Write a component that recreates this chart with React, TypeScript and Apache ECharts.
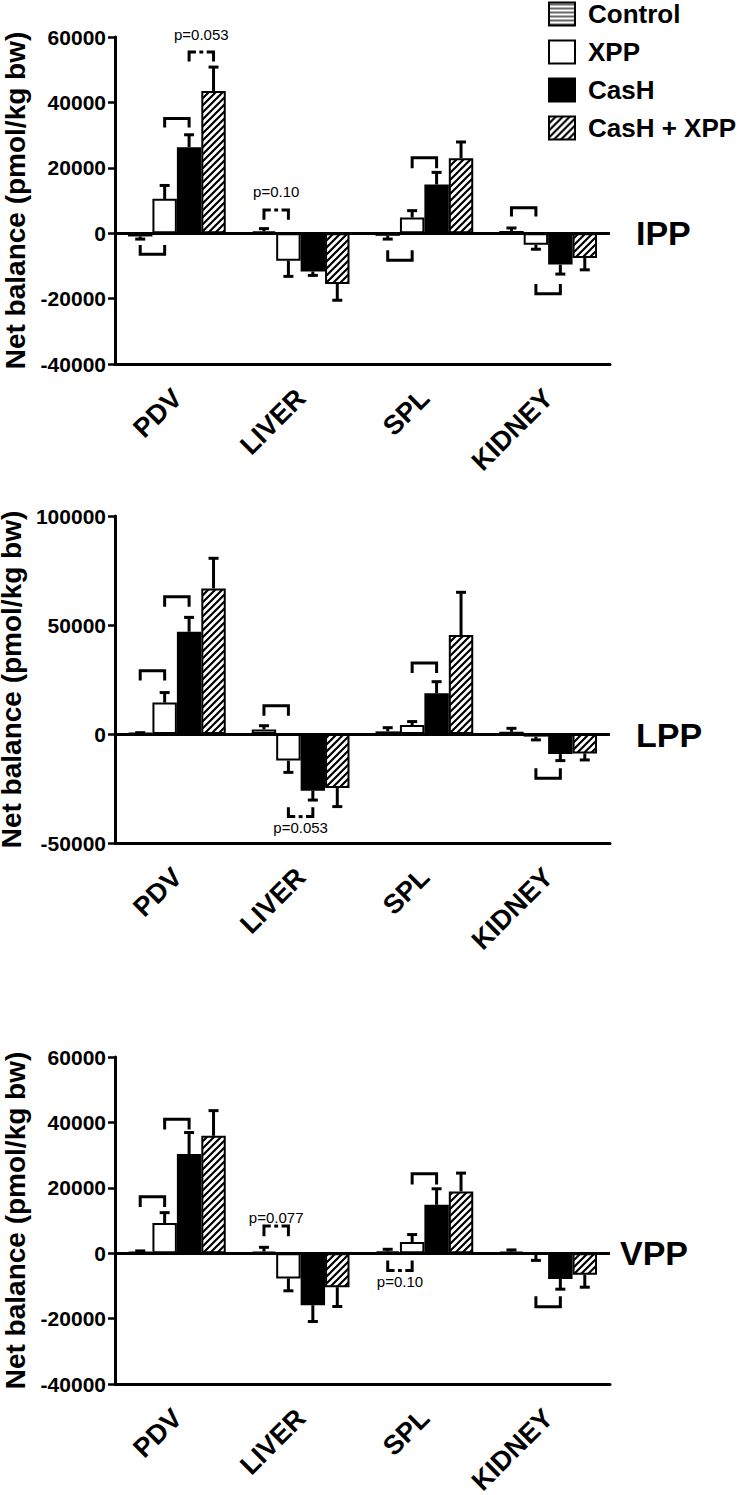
import React, { useEffect, useRef } from 'react';
import * as echarts from 'echarts';

// ---------- data ----------
const categories = ['PDV', 'LIVER', 'SPL', 'KIDNEY'];
const groupNames = ['Control', 'XPP', 'CasH', 'CasH + XPP'];

// IPP
const ippControl = [-1000, 600, -800, 700];
const ippControlErr = [800, 800, 1000, 900];
const ippXpp = [10500, -8400, 4800, -3500];
const ippXppErr = [4100, 4800, 2100, 1400];
const ippCasH = [26300, -11700, 14900, -9600];
const ippCasHErr = [3800, 1200, 3700, 2900];
const ippCasHXpp = [43500, -15500, 22900, -7600];
const ippCasHXppErr = [7300, 5000, 5000, 3600];

// LPP
const lppControl = [400, 2100, 1200, 1000];
const lppControlErr = [200, 1700, 1700, 1600];
const lppXpp = [14400, -12200, 4100, -1200];
const lppXppErr = [4600, 5400, 1600, 1500];
const lppCasH = [46900, -26000, 18700, -9200];
const lppCasHErr = [6600, 4300, 5300, 3000];
const lppCasHXpp = [66800, -24800, 45400, -8900];
const lppCasHXppErr = [13800, 8500, 19600, 3000];

// VPP
const vppControl = [400, 500, 600, 500];
const vppControlErr = [300, 1300, 600, 500];
const vppXpp = [9200, -7700, 3400, -300];
const vppXppErr = [3200, 3800, 2300, 1900];
const vppCasH = [30300, -15900, 14800, -7900];
const vppCasHErr = [6600, 5000, 4900, 3100];
const vppCasHXpp = [35900, -10400, 18900, -6600];
const vppCasHXppErr = [7700, 5900, 5600, 3800];

// significance brackets: [category, barA, barB, lineValue, tipValue, dashed, label, labelValue]
const ippBrackets = [
  [0, 0, 1, -6400, -3600, 0, '', 0],
  [0, 1, 2, 35100, 32300, 0, '', 0],
  [0, 2, 3, 55400, 52500, 1, 'p=0.053', 60700],
  [1, 0, 1, 7100, 4100, 1, 'p=0.10', 12600],
  [2, 0, 1, -8300, -5200, 0, '', 0],
  [2, 1, 2, 23100, 19900, 0, '', 0],
  [3, 0, 1, 7800, 5100, 0, '', 0],
  [3, 1, 2, -18500, -15500, 0, '', 0],
];
const lppBrackets = [
  [0, 0, 1, 29000, 24500, 0, '', 0],
  [0, 1, 2, 63000, 58400, 0, '', 0],
  [1, 0, 1, 13000, 8400, 0, '', 0],
  [1, 1, 2, -37900, -33600, 1, 'p=0.053', -42800],
  [2, 1, 2, 32600, 28000, 0, '', 0],
  [3, 1, 2, -20300, -15700, 0, '', 0],
];
const vppBrackets = [
  [0, 0, 1, 17300, 14100, 0, '', 0],
  [0, 1, 2, 41000, 37800, 0, '', 0],
  [1, 0, 1, 8300, 5200, 1, 'p=0.077', 10800],
  [2, 0, 1, -5300, -2200, 1, 'p=0.10', -8700],
  [2, 1, 2, 24300, 21000, 0, '', 0],
  [3, 1, 2, -16400, -13200, 0, '', 0],
];

const panelLabels = ['IPP', 'LPP', 'VPP'];
const yTicks = [
  { min: -40000, max: 60000, interval: 20000 },
  { min: -50000, max: 100000, interval: 50000 },
  { min: -40000, max: 60000, interval: 20000 },
];

const panels = [
  {
    means: [ippControl, ippXpp, ippCasH, ippCasHXpp],
    errs: [ippControlErr, ippXppErr, ippCasHErr, ippCasHXppErr],
    brackets: ippBrackets,
  },
  {
    means: [lppControl, lppXpp, lppCasH, lppCasHXpp],
    errs: [lppControlErr, lppXppErr, lppCasHErr, lppCasHXppErr],
    brackets: lppBrackets,
  },
  {
    means: [vppControl, vppXpp, vppCasH, vppCasHXpp],
    errs: [vppControlErr, vppXppErr, vppCasHErr, vppCasHXppErr],
    brackets: vppBrackets,
  },
];

// ---------- styling ----------
const FONT = 'Liberation Sans, Arial, Helvetica, sans-serif';
const GAP = 0.21;
const gridTops = [37, 516, 1057];
const gridHeight = 327;
const gridLeft = 115;
const gridWidth = 495;
const labelPos = [
  [636, 233],
  [636, 735],
  [620, 1253],
];

function makePattern(kind: string) {
  const c = document.createElement('canvas');
  const s = kind === 'diag' ? 7 : 4;
  c.width = s;
  c.height = s;
  const g = c.getContext('2d')!;
  g.fillStyle = '#fff';
  g.fillRect(0, 0, s, s);
  g.strokeStyle = '#000';
  if (kind === 'diag') {
    g.lineWidth = 2.2;
    g.beginPath();
    g.moveTo(-1, s + 1);
    g.lineTo(s + 1, -1);
    g.moveTo(-1, 1);
    g.lineTo(1, -1);
    g.moveTo(s - 1, s + 1);
    g.lineTo(s + 1, s - 1);
    g.stroke();
  } else {
    g.lineWidth = 1.2;
    g.beginPath();
    g.moveTo(0, 2);
    g.lineTo(s, 2);
    g.stroke();
  }
  return { image: c, repeat: 'repeat' };
}

function barX(api: any, cat: number, s: number) {
  const c = api.coord([cat, 0]);
  const band = api.size([1, 0])[0];
  const usable = band * (1 - GAP);
  const bw = usable / 4;
  return c[0] - usable / 2 + bw * (s + 0.5);
}

export default function App() {
  const ref = useRef<HTMLDivElement>(null);

  useEffect(() => {
    if (!ref.current) return;
    const chart = echarts.init(ref.current, null, { renderer: 'svg', width: 742, height: 1495 });

    const fills = [makePattern('horiz'), '#ffffff', '#000000', makePattern('diag')];

    const grids: any[] = [];
    const xAxes: any[] = [];
    const yAxes: any[] = [];
    const series: any[] = [];

    panels.forEach((p, pi) => {
      grids.push({
        left: gridLeft,
        top: gridTops[pi],
        width: gridWidth,
        height: gridHeight,
        containLabel: false,
        outerBoundsMode: 'none',
      });
      xAxes.push({
        type: 'category',
        gridIndex: pi,
        data: categories,
        position: 'bottom',
        boundaryGap: true,
        axisLine: { onZero: false, lineStyle: { color: '#000', width: 3 } },
        axisTick: { alignWithLabel: true, length: 7, lineStyle: { color: '#000', width: 2.5 } },
        axisLabel: {
          rotate: 45,
          margin: 11,
          verticalAlign: 'top',
          padding: [0, 13, 0, 0],
          color: '#000',
          fontSize: 27,
          fontWeight: 'bold',
          fontFamily: FONT,
        },
        splitLine: { show: false },
      });
      yAxes.push({
        type: 'value',
        gridIndex: pi,
        min: yTicks[pi].min,
        max: yTicks[pi].max,
        interval: yTicks[pi].interval,
        axisLine: { show: true, lineStyle: { color: '#000', width: 3 } },
        axisTick: { show: true, length: 7, lineStyle: { color: '#000', width: 2.5 } },
        axisLabel: {
          color: '#000',
          fontSize: 21,
          fontWeight: 'bold',
          fontFamily: FONT,
          margin: 9,
          formatter: (v: number) => String(v),
        },
        splitLine: { show: false },
        name: 'Net balance (pmol/kg bw)',
        nameLocation: 'middle',
        nameRotate: 90,
        nameGap: 78,
        nameTextStyle: { color: '#000', fontSize: 28, fontWeight: 'bold', fontFamily: FONT },
      });

      p.means.forEach((vals, si) => {
        const s: any = {
          type: 'bar',
          name: groupNames[si],
          xAxisIndex: pi,
          yAxisIndex: pi,
          data: vals,
          barGap: '0%',
          barCategoryGap: GAP * 100 + '%',
          itemStyle: { color: fills[si], borderColor: '#000', borderWidth: 2 },
          emphasis: { disabled: true },
          z: 2,
        };
        if (si === 0) {
          s.markLine = {
            silent: true,
            symbol: ['none', 'none'],
            label: { show: false },
            lineStyle: { color: '#000', width: 3, type: 'solid' },
            data: [{ yAxis: 0 }],
            z: 3,
          };
        }
        series.push(s);
      });

      const errData: number[][] = [];
      p.means.forEach((vals, si) => {
        vals.forEach((v, ci) => {
          errData.push([ci, si, v, p.errs[si][ci]]);
        });
      });
      series.push({
        type: 'custom',
        name: 'err' + pi,
        xAxisIndex: pi,
        yAxisIndex: pi,
        dimensions: ['cat', 's', 'v', 'e'],
        encode: { x: 0, y: 2 },
        data: errData,
        z: 4,
        silent: true,
        renderItem: (params: any, api: any) => {
          const cat = api.value(0);
          const s = api.value(1);
          const v = api.value(2);
          const e = api.value(3);
          const x = barX(api, cat, s);
          const y0 = api.coord([cat, v])[1];
          const y1 = api.coord([cat, v + (v >= 0 ? e : -e)])[1];
          const st = { stroke: '#000', lineWidth: 3, fill: 'none' };
          return {
            type: 'group',
            children: [
              { type: 'line', shape: { x1: x, y1: y0, x2: x, y2: y1 }, style: st },
              { type: 'line', shape: { x1: x - 5, y1: y1, x2: x + 5, y2: y1 }, style: st },
            ],
          };
        },
      });

      const br = p.brackets;
      series.push({
        type: 'custom',
        name: 'br' + pi,
        xAxisIndex: pi,
        yAxisIndex: pi,
        dimensions: ['cat', 'y'],
        encode: { x: 0, y: 1 },
        data: br.map((b) => [b[0], b[3]]),
        z: 5,
        silent: true,
        clip: false,
        renderItem: (params: any, api: any) => {
          const b = br[params.dataIndex] as any[];
          const cat = b[0];
          const xa = barX(api, cat, b[1]);
          const xb = barX(api, cat, b[2]);
          const yL = api.coord([cat, b[3]])[1];
          const yT = api.coord([cat, b[4]])[1];
          const st = { stroke: '#000', lineWidth: 3, fill: 'none' };
          const children: any[] = [];
          if (!b[5]) {
            children.push({
              type: 'polyline',
              shape: { points: [[xa, yT], [xa, yL], [xb, yL], [xb, yT]] },
              style: st,
            });
          } else {
            const w = xb - xa;
            children.push({ type: 'polyline', shape: { points: [[xa, yT], [xa, yL], [xa + w * 0.28, yL]] }, style: st });
            children.push({ type: 'line', shape: { x1: xa + w * 0.42, y1: yL, x2: xa + w * 0.58, y2: yL }, style: st });
            children.push({ type: 'polyline', shape: { points: [[xb - w * 0.28, yL], [xb, yL], [xb, yT]] }, style: st });
          }
          if (b[6]) {
            children.push({
              type: 'text',
              x: (xa + xb) / 2,
              y: api.coord([cat, b[7]])[1],
              style: {
                text: b[6],
                align: 'center',
                verticalAlign: 'middle',
                font: '15px ' + FONT,
                fill: '#000',
              },
            });
          }
          return { type: 'group', children };
        },
      });
    });

    const option: any = {
      animation: false,
      backgroundColor: '#ffffff',
      textStyle: { fontFamily: FONT },
      legend: {
        orient: 'vertical',
        left: 548,
        top: 1,
        padding: 0,
        itemWidth: 26,
        itemHeight: 23,
        itemGap: 12,
        icon: 'rect',
        data: groupNames,
        selectedMode: false,
        textStyle: {
          color: '#000',
          fontSize: 26,
          fontWeight: 'bold',
          fontFamily: FONT,
          padding: [0, 0, 0, 8],
        },
      },
      grid: grids,
      xAxis: xAxes,
      yAxis: yAxes,
      series,
      graphic: panelLabels.map((t, i) => ({
        type: 'text',
        x: labelPos[i][0],
        y: labelPos[i][1],
        style: {
          text: t,
          font: 'bold 34px ' + FONT,
          fill: '#000',
          verticalAlign: 'middle',
          align: 'left',
        },
      })),
    };

    chart.setOption(option);
    return () => chart.dispose();
  }, []);

  return (
    <div
      ref={ref}
      style={{ position: 'absolute', left: 0, top: 0, width: 742, height: 1495, background: '#fff' }}
    />
  );
}
